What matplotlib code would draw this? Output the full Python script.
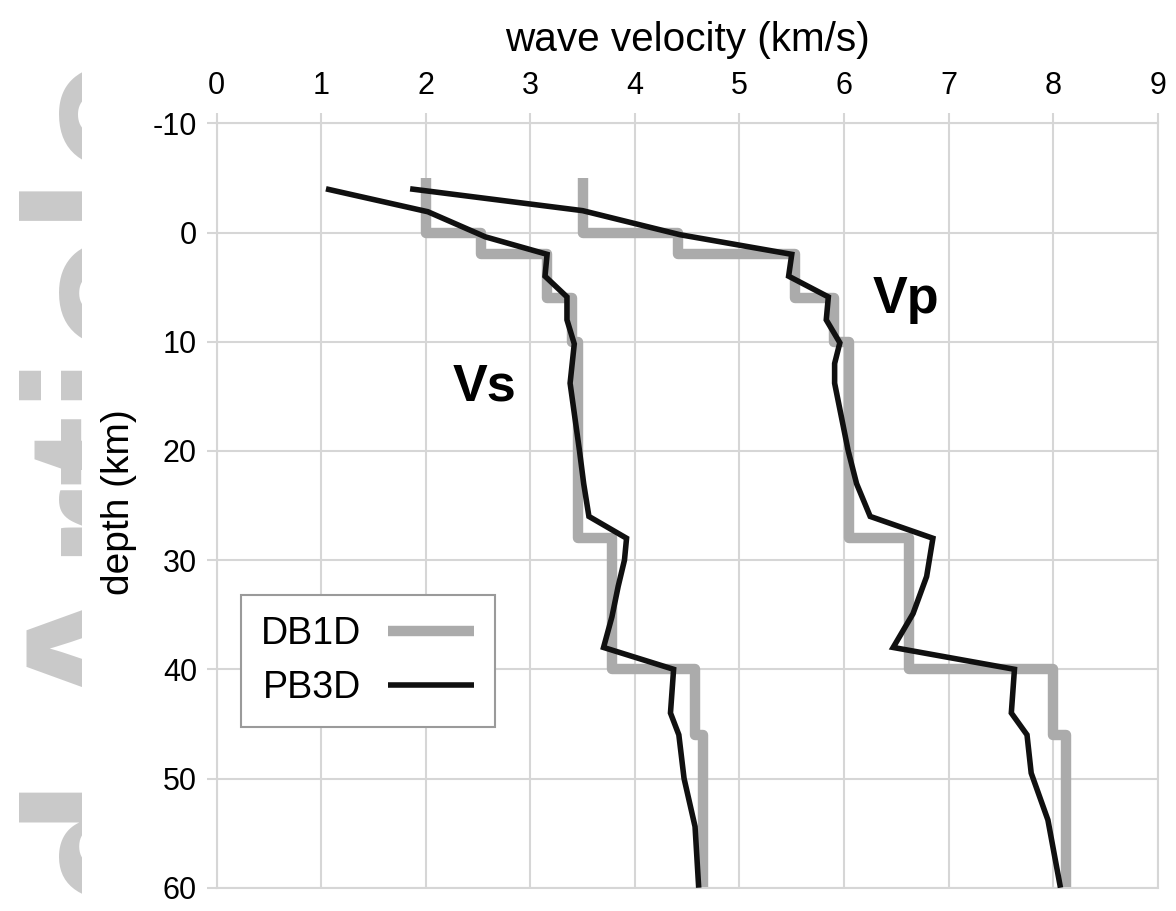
import numpy as np
import matplotlib
matplotlib.use("Agg")
import matplotlib.pyplot as plt
from matplotlib.transforms import Bbox, TransformedBbox

plt.rcParams['font.family'] = ['Liberation Sans', 'DejaVu Sans']
plt.rcParams['axes.unicode_minus'] = False

# ---- data ----
# DB1D layered model: layer top depths (km), bottom depth, velocities (km/s)
db_top = [-5, 0, 2, 6, 10, 28, 40, 46]
db_bottom = 60
db_vs = [2.00, 2.53, 3.16, 3.40, 3.46, 3.78, 4.57, 4.65]
db_vp = [3.50, 4.41, 5.53, 5.90, 6.05, 6.62, 8.00, 8.12]

# PB3D profiles
pb_vs_depth = [-4, -1.9, 0.4, 2.0, 4.0, 5.9, 8.0, 10.2, 13.8, 20, 23, 26, 28, 30, 32.4, 35.2, 38, 40, 44, 46, 50, 54.4, 60]
pb_vs = [1.045, 2.02, 2.57, 3.16, 3.14, 3.35, 3.35, 3.42, 3.38, 3.47, 3.51, 3.56, 3.92, 3.90, 3.84, 3.78, 3.70, 4.37, 4.34, 4.42, 4.47, 4.575, 4.61]
pb_vp_depth = [-4, -2, 0.2, 2.0, 4.0, 5.9, 8.0, 10.1, 12, 13.8, 20, 23, 26, 28, 31.5, 34.9, 38, 40, 44, 46, 49.5, 53.8, 60]
pb_vp = [1.85, 3.50, 4.43, 5.50, 5.47, 5.85, 5.83, 5.96, 5.91, 5.91, 6.04, 6.12, 6.25, 6.85, 6.79, 6.66, 6.47, 7.63, 7.60, 7.75, 7.79, 7.95, 8.07]

x_ticks = [0, 1, 2, 3, 4, 5, 6, 7, 8, 9]
y_ticks = [-10, 0, 10, 20, 30, 40, 50, 60]

def step_profile(tops, bottom, vals):
    bounds = list(tops) + [bottom]
    ys, xs = [], []
    for i, v in enumerate(vals):
        ys += [bounds[i], bounds[i + 1]]
        xs += [v, v]
    return xs, ys

W, H = 1176, 911
fig = plt.figure(figsize=(W / 100, H / 100), dpi=100)
ax = fig.add_axes([216.7 / W, 1 - 887.7 / H, 941 / W, 764.4 / H])

gridc = '#d6d6d6'
grayc = '#ababab'

# watermark
wm = fig.text(176 / W, (H - 55) / H, "Accepted Article", rotation=90, rotation_mode='anchor',
              ha='right', va='baseline', fontsize=155, fontweight='bold', color='#c9c9c9', zorder=0)
wm.set_clip_box(TransformedBbox(Bbox([[0, 0], [82 / W, 1]]), fig.transFigure))
wm.set_clip_on(True)

xs, ys = step_profile(db_top, db_bottom, db_vs)
ax.plot(xs, ys, color=grayc, lw=7.5, solid_capstyle='butt', solid_joinstyle='round', zorder=2, label='DB1D')
xs, ys = step_profile(db_top, db_bottom, db_vp)
ax.plot(xs, ys, color=grayc, lw=7.5, solid_capstyle='butt', solid_joinstyle='round', zorder=2)

ax.plot(pb_vs, pb_vs_depth, color='#101010', lw=4, solid_capstyle='butt', solid_joinstyle='miter', zorder=3, label='PB3D')
ax.plot(pb_vp, pb_vp_depth, color='#101010', lw=4, solid_capstyle='butt', solid_joinstyle='miter', zorder=3)

ax.set_xlim(0, 9)
ax.set_ylim(60, -10)
ax.set_xticks(x_ticks)
ax.set_yticks(y_ticks)
ax.xaxis.tick_top()
ax.xaxis.set_label_position('top')
ax.tick_params(axis='both', colors=gridc, labelcolor='black', labelsize=22, length=7.2, width=1.5)
ax.tick_params(axis='x', pad=9)
ax.tick_params(axis='y', pad=7)
ax.grid(True, color=gridc, lw=1.5, zorder=0)
for s in ax.spines.values():
    s.set_color(gridc)
    s.set_linewidth(1.5)

ax.set_xlabel('wave velocity (km/s)', fontsize=29.2)
ax.xaxis.set_label_coords(0.5, 1.094)
ax.set_ylabel('depth (km)', fontsize=28)
ax.yaxis.set_label_coords(-0.0847, 0.5046)

ax.text(2.566, 15.34, 'Vs', fontsize=37.5, fontweight='bold', ha='center', va='baseline', zorder=4)
ax.text(6.593, 7.40, 'Vp', fontsize=37.5, fontweight='bold', ha='center', va='baseline', zorder=4)

leg = ax.legend(loc='upper left', bbox_to_anchor=((240.7 - 216.7) / 941, 1 - (595 - 123.3) / 764.4),
                borderaxespad=0, markerfirst=False, fontsize=27, frameon=True, fancybox=False,
                edgecolor='#9a9a9a', framealpha=1, borderpad=0.55, handlelength=2.3,
                handletextpad=0.7, labelspacing=0.5)
leg.get_frame().set_linewidth(1.5)
leg.set_zorder(5)

fig.savefig('out.png', dpi=100)
